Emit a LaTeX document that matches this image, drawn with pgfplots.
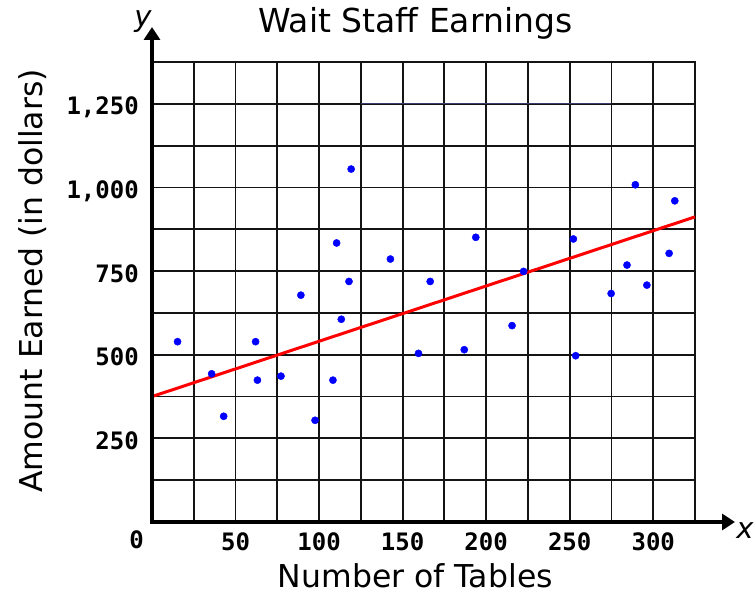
\documentclass[border=0pt]{standalone}
\usepackage{pgfplots}
\pgfplotsset{compat=1.18}
\usepackage{fontspec}
\setmainfont{DejaVu Sans}
\newfontfamily\tickfont{DejaVu Sans Mono}
\usetikzlibrary{arrows.meta}
\definecolor{navyline}{RGB}{60,60,110}
\definecolor{gridc}{RGB}{20,20,20}
\begin{document}
\begin{tikzpicture}
\begin{axis}[
  scale only axis, width=543pt, height=460pt,
  xmin=0, xmax=325, ymin=0, ymax=1375,
  xtick={50,100,...,300}, ytick={250,500,...,1250},
  minor xtick={25,75,...,325}, minor ytick={125,375,...,1375},
  grid=both,
  major grid style={gridc, line width=1.8pt},
  minor grid style={gridc, line width=1.8pt},
  axis line style={gridc, line width=1.8pt},
  major tick length=0pt, minor tick length=0pt,
  /pgf/number format/assume math mode=true,
  /pgf/number format/1000 sep={,},
  tick label style={font=\tickfont\bfseries\fontsize{24}{24}\selectfont, inner sep=0pt},
  xticklabel style={anchor=north, yshift=-10pt},
  yticklabel style={anchor=base east, xshift=-13pt, yshift=-11pt},
  title={Wait Staff Earnings},
  title style={font=\fontsize{33}{40}\selectfont, at={(0.485,1)}, anchor=base, yshift=23pt, inner sep=0pt},
  xlabel={Number of Tables},
  xlabel style={font=\fontsize{31.5}{38}\selectfont, at={(0.485,0)}, anchor=base, yshift=-66pt, inner sep=0pt},
  ylabel={Amount Earned (in dollars)},
  ylabel style={font=\fontsize{31.5}{38}\selectfont, at={([xshift=-109pt]axis description cs:0,0.524)}, anchor=base, inner sep=0pt},
  clip=false,
]
\addplot[navyline, line width=1.3pt] coordinates {(125,1250) (275,1250)};
\addplot[red, line width=3pt] coordinates {(0,375) (325,912)};
\addplot[only marks, mark=*, mark size=3.6pt, color=blue] coordinates {
(15.3,539) (35.7,443) (42.9,316) (62,539) (63.1,424) (77.2,436) (89.1,678)
(97.6,304) (108.3,424) (110.5,834) (113.3,606) (117.9,719) (119.2,1055)
(142.7,786) (159.5,504) (166.5,719) (186.9,515) (193.8,851) (215.5,587)
(222.4,749) (252.2,846) (253.6,497) (274.8,683) (284.3,768) (289.3,1008)
(296.2,708) (309.5,803) (312.9,960)};
\draw[line width=3.5pt, {Triangle[length=13pt,width=16pt]}-{Triangle[length=13pt,width=16pt]}]
  ([yshift=35pt]axis cs:0,1375) -- (axis cs:0,0) -- ([xshift=40pt]axis cs:325,0);
\node[font=\tickfont\bfseries\fontsize{24}{24}\selectfont, inner sep=0pt, anchor=north east] at ([xshift=-8pt,yshift=-8pt]axis cs:0,0) {0};
\node[font=\itshape\fontsize{29}{29}\selectfont, anchor=base, inner sep=0pt] at ([xshift=50pt,yshift=-17pt]axis cs:325,0) {x};
\node[font=\itshape\fontsize{29}{29}\selectfont, anchor=base, inner sep=0pt] at ([xshift=-9pt,yshift=35pt]axis cs:0,1375) {y};
\coordinate (O) at (axis cs:0,0);
\end{axis}
\pgfresetboundingbox
\useasboundingbox ([shift={(-152pt,-75pt)}]O) rectangle ([shift={(604pt,522pt)}]O);
\end{tikzpicture}
\end{document}
